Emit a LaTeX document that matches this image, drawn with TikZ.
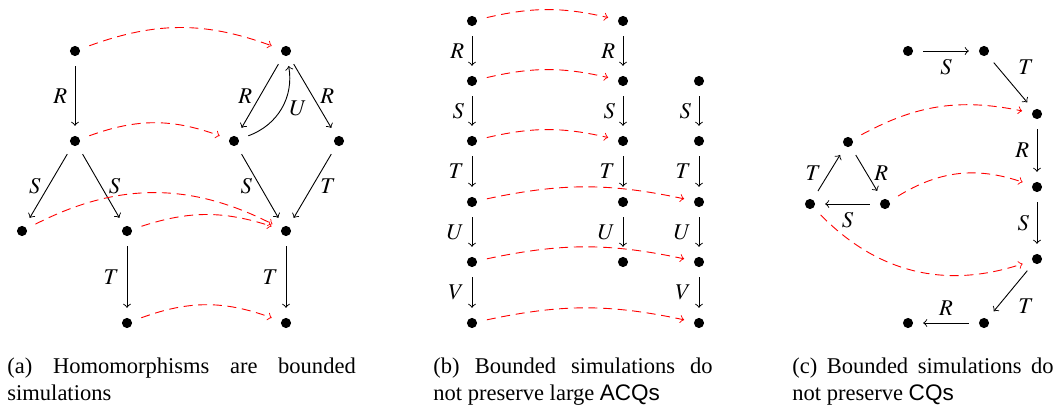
\documentclass[tikz,border=0pt]{standalone}
\usepackage{mathptmx}
\usepackage[no-math]{fontspec}
\setmainfont{Liberation Serif}
\setsansfont{Liberation Sans}
\usepackage{tikz}
\hyphenpenalty=10000
\exhyphenpenalty=10000
\tolerance=9999

\begin{document}
\begin{tikzpicture}[x=0.01561cm, y=-0.01561cm, >=to,
  dot/.style={circle, fill, inner sep=0pt, minimum size=4.5pt, outer sep=4.5pt},
  sim/.style={->, red, dash pattern=on 4pt off 2.5pt},
  capt/.style={anchor=north west, inner sep=0pt, align=justify}]
\useasboundingbox (0,0) rectangle (1057,408);

% (a)
\node[dot] (a1) at (75,51) {};
\node[dot] (a2) at (75,141) {};
\node[dot] (a3) at (22,231) {};
\node[dot] (a4) at (127,231) {};
\node[dot] (a5) at (127,323) {};
\node[dot] (b1) at (286,51) {};
\node[dot] (b2) at (234,141) {};
\node[dot] (b3) at (339,141) {};
\node[dot] (b4) at (286,231) {};
\node[dot] (b5) at (286,323) {};
 \draw [->] (a1)--(a2) node[midway, left]{$R$};
 \draw [->] (a2)--(a3) node[midway, left]{$S$};
 \draw [->] (a2)--(a4) node[midway, right]{$S$};
 \draw [->] (a4)--(a5) node[midway, left]{$T$};
 \draw [->] (b1)--(b2) node[midway, left]{$R$};
 \draw [->] (b2) to[bend right=40] node[midway, right]{$U$} (b1);
 \draw [->] (b1)--(b3) node[midway, right]{$R$};
 \draw [->] (b2)--(b4) node[midway, left]{$S$};
 \draw [->] (b3)--(b4) node[midway, right]{$T$};
 \draw [->] (b4)--(b5) node[midway, left]{$T$};
 \draw [sim] (a1) to[bend left=20] (b1);
 \draw [sim] (a2) to[bend left=20] (b2);
 \draw [sim] (a3) to[bend left=27] (b4);
 \draw [sim] (a4) to[bend left=18] (b4);
 \draw [sim] (a5) to[bend left=20] (b5);

% (b)
\foreach \i/\y in {1/21, 2/81, 3/141, 4/202, 5/262, 6/323}
  \node[dot] (p\i) at (472,\y) {};
\foreach \i/\y in {1/21, 2/81, 3/141, 4/202, 5/262}
  \node[dot] (q\i) at (623,\y) {};
\foreach \i/\y in {2/81, 3/141, 4/202, 5/262, 6/323}
  \node[dot] (r\i) at (699,\y) {};
\foreach \i/\j/\l in {1/2/R, 2/3/S, 3/4/T, 4/5/U, 5/6/V}
  \draw [->] (p\i)--(p\j) node[midway, left]{$\l$};
\foreach \i/\j/\l in {1/2/R, 2/3/S, 3/4/T, 4/5/U}
  \draw [->] (q\i)--(q\j) node[midway, left]{$\l$};
\foreach \i/\j/\l in {2/3/S, 3/4/T, 4/5/U, 5/6/V}
  \draw [->] (r\i)--(r\j) node[midway, left]{$\l$};
\foreach \i in {1,2,3}
  \draw [sim] (p\i) to[bend left=13] (q\i);
\foreach \i in {4,5,6}
  \draw [sim] (p\i) to[bend left=12] (r\i);

% (c)
\node[dot] (c1) at (908,51) {};
\node[dot] (c2) at (984,51) {};
\node[dot] (c3) at (1037,114) {};
\node[dot] (c4) at (1037,187) {};
\node[dot] (c5) at (1037,259) {};
\node[dot] (c6) at (984,323) {};
\node[dot] (c7) at (908,323) {};
\node[dot] (d1) at (848,142) {};
\node[dot] (d2) at (810,204) {};
\node[dot] (d3) at (885,204) {};
 \draw [->] (c1)--(c2) node[midway, below]{$S$};
 \draw [->] (c2)--(c3) node[midway, above right]{$T$};
 \draw [->] (c3)--(c4) node[midway, left]{$R$};
 \draw [->] (c4)--(c5) node[midway, left]{$S$};
 \draw [->] (c5)--(c6) node[midway, below right]{$T$};
 \draw [->] (c6)--(c7) node[midway, above]{$R$};
 \draw [->] (d2)--(d1) node[midway, left]{$T$};
 \draw [->] (d1)--(d3) node[midway, right]{$R$};
 \draw [->] (d3)--(d2) node[midway, below]{$S$};
 \draw [sim] (d1) to[bend left=20] (c3);
 \draw [sim] (d3) to[bend left=25] (c4);
 \draw [sim] (d2) to[bend right=32] (c5);

% captions
\node[capt, text width=154.7pt] (capa) at (7,357)
  {(a) Homomorphisms are bounded simulations};
\node[capt, text width=124pt] (capb) at (433,357)
  {(b) Bounded simulations do\linebreak not preserve large \textsf{ACQs}};
\node[capt, text width=116pt] (capc) at (792,357)
  {(c) Bounded simulations do not preserve \textsf{CQs}};
\end{tikzpicture}
\end{document}
